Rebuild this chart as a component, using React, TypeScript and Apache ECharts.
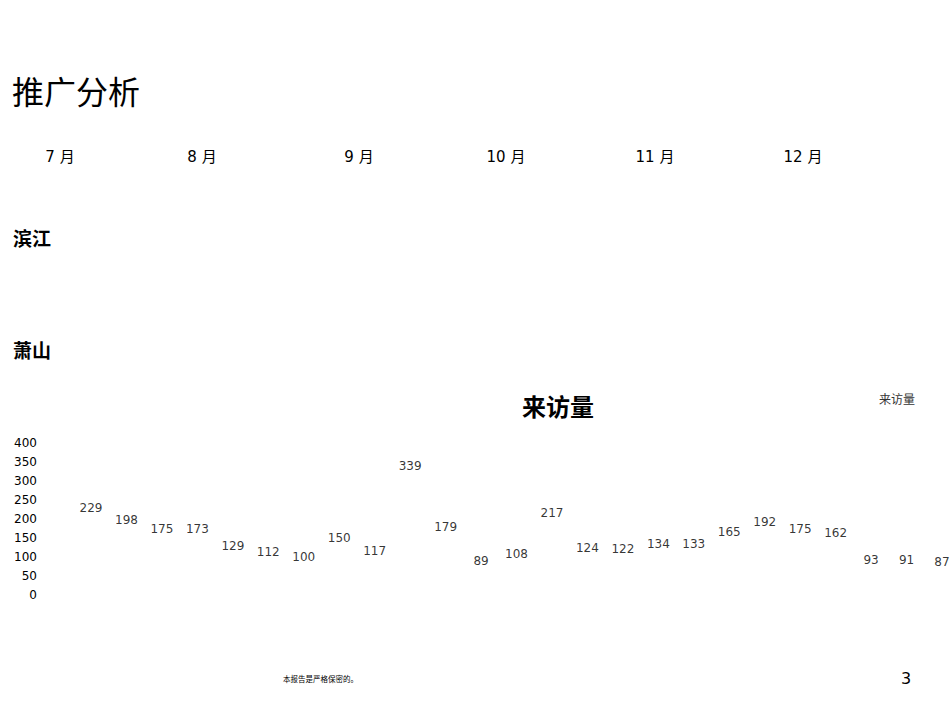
import { useRef, useEffect } from 'react'
import * as echarts from 'echarts'

const months = ['7 月', '8 月', '9 月', '10 月', '11 月', '12 月']
const regions = ['滨江', '萧山']
const weeks = Array.from({ length: 25 }, (_, i) => `第${i + 1}周`)
const visits = [229, 198, 175, 173, 129, 112, 100, 150, 117, 339, 179, 89, 108, 217, 124, 122, 134, 133, 165, 192, 175, 162, 93, 91, 87]
const yTicks = [0, 50, 100, 150, 200, 250, 300, 350, 400]

// layout: centre x of each month header
const monthCentres = [60, 202, 359, 506, 655, 803]

const FONT = "'DejaVu Sans', 'Noto Sans CJK SC', sans-serif"
const CJK = "'Noto Sans CJK SC', sans-serif"

function App() {
  const chartRef = useRef<HTMLDivElement>(null)

  useEffect(() => {
    document.body.style.margin = '0'
    if (!chartRef.current) return
    const myChart = echarts.init(chartRef.current, null, { renderer: 'svg' })

    const monthTexts = months.map((m, i) => ({
      type: 'text',
      x: monthCentres[i],
      y: 157,
      style: { text: m, font: `15px ${FONT}`, fill: '#000', align: 'center', verticalAlign: 'middle' },
    }))
    const regionTexts = regions.map((r, i) => ({
      type: 'text',
      left: 13,
      top: 228 + i * 112,
      style: { text: r, font: `bold 19px ${CJK}`, fill: '#000' },
    }))

    const option = {
      animation: false,
      title: {
        text: '来访量',
        left: 517,
        top: 388,
        textStyle: { fontSize: 24, fontWeight: 'bold', color: '#000', fontFamily: CJK },
      },
      legend: {
        data: [{ name: '来访量', icon: 'none' }],
        right: 30,
        top: 386,
        itemWidth: 0,
        itemGap: 0,
        textStyle: { fontSize: 12, color: '#333', fontFamily: "'Noto Sans CJK SC', serif" },
      },
      grid: { left: 91, right: 8, top: 443, bottom: 713 - 595 },
      xAxis: {
        type: 'category',
        data: weeks,
        boundaryGap: false,
        axisLine: { show: false },
        axisTick: { show: false },
        axisLabel: { show: false },
        splitLine: { show: false },
      },
      yAxis: {
        type: 'value',
        min: yTicks[0],
        max: yTicks[yTicks.length - 1],
        interval: 50,
        axisLine: { show: false },
        axisTick: { show: false },
        splitLine: { show: false },
        axisLabel: { margin: 54, fontSize: 12, color: '#000', fontFamily: FONT },
      },
      series: [
        {
          name: '来访量',
          type: 'scatter',
          data: visits,
          symbolSize: 1,
          itemStyle: { color: 'rgba(0,0,0,0)' },
          label: {
            show: true,
            position: 'inside',
            fontSize: 12,
            color: '#000',
            fontFamily: FONT,
          },
        },
      ],
      graphic: [
        {
          type: 'text',
          left: 12,
          top: 74,
          style: { text: '推广分析', font: `32px ${CJK}`, fill: '#000' },
        },
        ...monthTexts,
        ...regionTexts,
        {
          type: 'text',
          left: 283,
          top: 675,
          style: { text: '本报告是严格保密的。', font: `7.5px ${CJK}`, fill: '#000' },
        },
        {
          type: 'text',
          left: 901,
          top: 670,
          style: { text: '3', font: `16px ${FONT}`, fill: '#000' },
        },
      ],
    }
    myChart.setOption(option as any)

    return () => {
      myChart.dispose()
    }
  }, [])

  return <div ref={chartRef} style={{ width: '950px', height: '713px' }}></div>
}

export default App
